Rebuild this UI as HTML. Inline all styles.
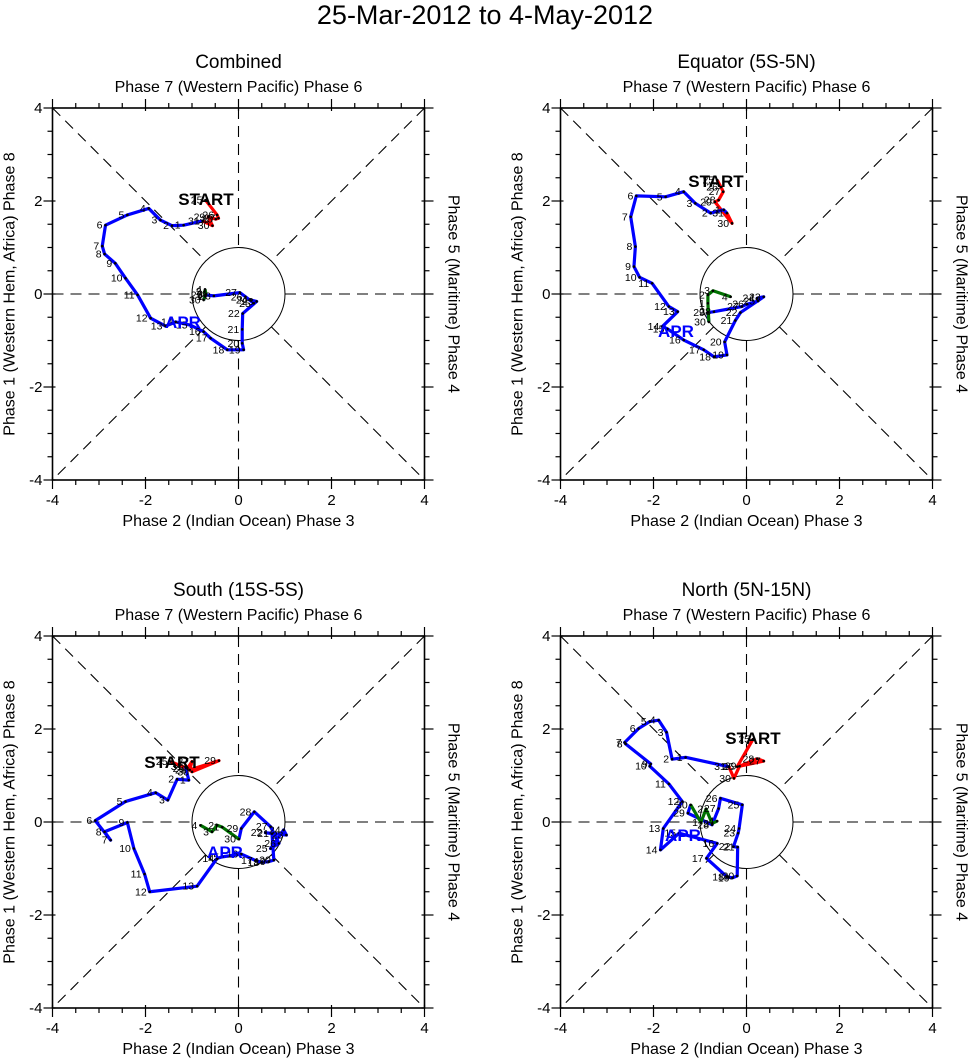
<!DOCTYPE html>
<html><head><meta charset="utf-8"><style>
body{margin:0;background:#fff;}
svg{display:block;font-family:"Liberation Sans",Arial,sans-serif;}
</style></head><body>
<svg id="chart" width="971" height="1061" viewBox="0 0 971 1061">
<text x="485" y="24" text-anchor="middle" font-size="27">25-Mar-2012 to 4-May-2012</text>
</svg>
<script>
const panelTitles = ["Combined","Equator (5S-5N)","South (15S-5S)","North (5N-15N)"];
const tickLabels = ["-4","-2","0","2","4"];
const tickValues = [-4,-2,0,2,4];
const marDays = [25,26,27,28,29,30,31];
const aprDays = [1,2,3,4,5,6,7,8,9,10,11,12,13,14,15,16,17,18,19,20,21,22,23,24,25,26,27,28,29,30];
const mayDays = [1,2,3,4];

// Combined
const p0MarX=[-0.71,-0.46,-0.43,-0.49,-0.65,-0.56,-0.77];
const p0MarY=[2.02,1.70,1.63,1.61,1.66,1.47,1.57];
const p0AprX=[-1.18,-1.43,-1.68,-1.93,-2.39,-2.86,-2.93,-2.88,-2.65,-2.43,-2.17,-1.89,-1.57,-1.35,-1.03,-0.75,-0.60,-0.24,0.11,0.08,0.08,0.09,0.39,0.26,0.33,0.15,0.03,-0.53,-0.71,-0.75];
const p0AprY=[1.48,1.47,1.59,1.84,1.70,1.48,1.03,0.86,0.66,0.34,-0.02,-0.52,-0.69,-0.60,-0.67,-0.81,-0.95,-1.20,-1.20,-1.06,-0.76,-0.42,-0.16,-0.13,-0.20,-0.06,0.03,-0.04,-0.02,-0.13];
const p0MayX=[-0.72,-0.73,-0.70,-0.72];
const p0MayY=[-0.05,0.05,0.0,0.10];
// Equator
const p1MarX=[-0.63,-0.55,-0.50,-0.60,-0.68,-0.31,-0.42];
const p1MarY=[2.45,2.30,2.20,2.02,1.98,1.52,1.74];
const p1AprX=[-0.49,-0.77,-1.10,-1.35,-1.74,-2.37,-2.49,-2.39,-2.42,-2.30,-2.03,-1.67,-1.48,-1.81,-1.70,-1.35,-0.92,-0.70,-0.42,-0.47,-0.24,-0.13,0.37,0.23,0.25,0.01,-0.10,-0.70,-0.83,-0.81];
const p1AprY=[1.81,1.74,1.95,2.20,2.09,2.11,1.66,1.02,0.59,0.36,0.23,-0.27,-0.38,-0.70,-0.75,-0.99,-1.20,-1.35,-1.31,-1.03,-0.57,-0.40,-0.06,-0.09,-0.15,-0.22,-0.27,-0.38,-0.40,-0.60];
const p1MayX=[-0.83,-0.83,-0.72,-0.34];
const p1MayY=[-0.20,-0.02,0.07,-0.06];
// South
const p2MarX=[-1.46,-1.10,-1.00,-1.05,-0.42,-1.00,-1.14];
const p2MarY=[1.30,1.15,1.30,1.12,1.32,1.08,1.19];
const p2AprX=[-1.07,-1.32,-1.52,-1.78,-2.43,-3.08,-2.75,-2.88,-2.39,-2.25,-2.02,-1.91,-0.89,-0.46,-0.35,0.06,0.37,0.51,0.65,0.76,0.72,0.58,1.03,0.97,0.69,0.87,0.69,0.34,0.06,0.01];
const p2AprY=[0.90,0.92,0.47,0.63,0.44,0.03,-0.39,-0.21,-0.01,-0.57,-1.12,-1.50,-1.38,-0.78,-0.75,-0.69,-0.83,-0.87,-0.85,-0.82,-0.25,-0.23,-0.28,-0.17,-0.57,-0.46,-0.10,0.22,-0.14,-0.37];
const p2MayX=[-0.35,-0.46,-0.57,-0.82];
const p2MayY=[-0.11,-0.07,-0.21,-0.07];
// North
const p3MarX=[0.14,-0.20,0.37,0.23,-0.15,-0.27,-0.38];
const p3MarY=[1.78,1.19,1.31,1.36,1.20,0.94,1.19];
const p3AprX=[-1.31,-1.60,-1.72,-1.89,-2.08,-2.32,-2.62,-2.60,-2.06,-2.08,-1.67,-1.38,-1.79,-1.85,-1.45,-0.63,-0.86,-0.42,-0.30,-0.20,-0.19,-0.28,-0.18,-0.16,-0.09,-0.56,-0.60,-0.74,-1.26,-1.20];
const p3AprY=[1.39,1.35,1.93,2.19,2.16,2.01,1.71,1.68,1.25,1.20,0.82,0.44,-0.14,-0.60,-0.24,-0.46,-0.78,-1.18,-1.20,-1.16,-0.54,-0.53,-0.24,-0.14,0.37,0.51,0.29,-0.06,0.19,0.37];
const p3MayX=[-0.98,-0.87,-0.74,-0.63];
const p3MayY=[-0.01,0.28,-0.03,0.02];

const panels=[
 {ox:52.5,oy:108,mx:p0MarX,my:p0MarY,ax:p0AprX,ay:p0AprY,yx:p0MayX,yy:p0MayY,start:[206,199],apr:[183,322]},
 {ox:560.5,oy:108,mx:p1MarX,my:p1MarY,ax:p1AprX,ay:p1AprY,yx:p1MayX,yy:p1MayY,start:[716,181],apr:[676,331]},
 {ox:52.5,oy:636,mx:p2MarX,my:p2MarY,ax:p2AprX,ay:p2AprY,yx:p2MayX,yy:p2MayY,start:[172,762],apr:[225,852]},
 {ox:560.5,oy:636,mx:p3MarX,my:p3MarY,ax:p3AprX,ay:p3AprY,yx:p3MayX,yy:p3MayY,start:[753,738],apr:[683,835]}
];
const NS="http://www.w3.org/2000/svg";
const svg=document.getElementById('chart');
function mk(tag,attrs,parent){const e=document.createElementNS(NS,tag);for(const k in attrs)e.setAttribute(k,attrs[k]);parent.appendChild(e);return e;}
const W=372, S=W/8;
panels.forEach((p,i)=>{
 const g=mk('g',{},svg);
 
 
 const X=v=>p.ox+(v+4)*S, Y=v=>p.oy+(4-v)*S;
 const cx=X(0), cy=Y(0);
 const dash={stroke:'#000','stroke-width':1.1,'stroke-dasharray':'11,7',fill:'none'};
 const r=S;
 const d=r/Math.SQRT2;
 [[X(-4),Y(4),cx-d,cy-d],[cx+d,cy+d,X(4),Y(-4)],[X(4),Y(4),cx+d,cy-d],[cx-d,cy+d,X(-4),Y(-4)],
  [X(-4),cy,cx-r,cy],[cx+r,cy,X(4),cy],[cx,Y(4),cx,cy-r],[cx,cy+r,cx,Y(-4)]].forEach(l=>{
   const ln=mk('line',Object.assign({x1:l[0],y1:l[1],x2:l[2],y2:l[3]},dash),g);
   
   
 });
 const c=mk('circle',{cx:cx,cy:cy,r:r,fill:'none',stroke:'#000','stroke-width':1},g);
 
 
 const box=mk('rect',{x:p.ox,y:p.oy,width:W,height:W,fill:'none',stroke:'#000','stroke-width':1.6},g);
 
 
 for(let v=-4;v<=4.001;v+=0.5){
  const major=Math.abs(v-Math.round(v/2)*2)<0.01, L=major?9:5, I=major?3:0;
  mk('line',{x1:X(v),y1:Y(-4)-I,x2:X(v),y2:Y(-4)+L,stroke:'#000','stroke-width':1.2},g);
  mk('line',{x1:X(v),y1:Y(4)+I,x2:X(v),y2:Y(4)-L,stroke:'#000','stroke-width':1.2},g);
  mk('line',{x1:X(-4)+I,y1:Y(v),x2:X(-4)-L,y2:Y(v),stroke:'#000','stroke-width':1.2},g);
  mk('line',{x1:X(4)-I,y1:Y(v),x2:X(4)+L,y2:Y(v),stroke:'#000','stroke-width':1.2},g);
 }
 tickValues.forEach((v,k)=>{
  const t=mk('text',{x:X(v),y:Y(-4)+25,'text-anchor':'middle','font-size':15},g);t.textContent=tickLabels[k];
  
  
  const t2=mk('text',{x:X(-4)-10,y:Y(v)+5,'text-anchor':'end','font-size':15},g);t2.textContent=tickLabels[k];
  
  
 });
 const tt=mk('text',{x:cx,y:p.oy-40,'text-anchor':'middle','font-size':19},g);tt.textContent=panelTitles[i];
 
 
 const top=mk('text',{x:cx,y:p.oy-16,'text-anchor':'middle','font-size':16},g);top.textContent='Phase 7 (Western Pacific) Phase 6';
 
 
 const bot=mk('text',{x:cx,y:Y(-4)+46,'text-anchor':'middle','font-size':16},g);bot.textContent='Phase 2 (Indian Ocean) Phase 3';
 
 
 const lt=mk('text',{x:0,y:0,'text-anchor':'middle','font-size':16,transform:`translate(${p.ox-38},${cy}) rotate(-90)`},g);lt.textContent='Phase 1 (Western Hem, Africa) Phase 8';
 
 
 const rt=mk('text',{x:0,y:0,'text-anchor':'middle','font-size':16,transform:`translate(${X(4)+24},${cy}) rotate(90)`},g);rt.textContent='Phase 5 (Maritime) Phase 4';
 
 
 const ser=[[p.mx,p.my,'#ff0000',marDays,'march-track'],[p.ax,p.ay,'#0000ff',aprDays,'april-track'],[p.yx,p.yy,'#007000',mayDays,'may-track']];
 let prev=null;
 ser.forEach(s=>{
  const pts=s[0].map((v,k)=>X(v)+','+Y(s[1][k]));
  if(prev) pts.unshift(prev);
  const pl=mk('polyline',{points:pts.join(' '),fill:'none',stroke:s[2],'stroke-width':3.2,'stroke-linejoin':'round'},g);
  
  
  prev=X(s[0][s[0].length-1])+','+Y(s[1][s[1].length-1]);
 });
 ser.forEach(s=>{
  s[0].forEach((v,k)=>{
   const dot=mk('circle',{cx:X(v),cy:Y(s[1][k]),r:1.3,fill:'#000'},g);
   
   
   const lb=mk('text',{x:X(v)-3,y:Y(s[1][k])+3.5,'text-anchor':'end','font-size':10.5},g);lb.textContent=s[3][k];
   
   
  });
 });
 const st=mk('text',{x:p.start[0],y:p.start[1]+6,'text-anchor':'middle','font-size':17,'font-weight':'bold'},g);st.textContent='START';
 
 
 const ap=mk('text',{x:p.apr[0],y:p.apr[1]+6,'text-anchor':'middle','font-size':17,'font-weight':'bold',fill:'#0000ff'},g);ap.textContent='APR';
 
 
});
</script>
</body></html>
